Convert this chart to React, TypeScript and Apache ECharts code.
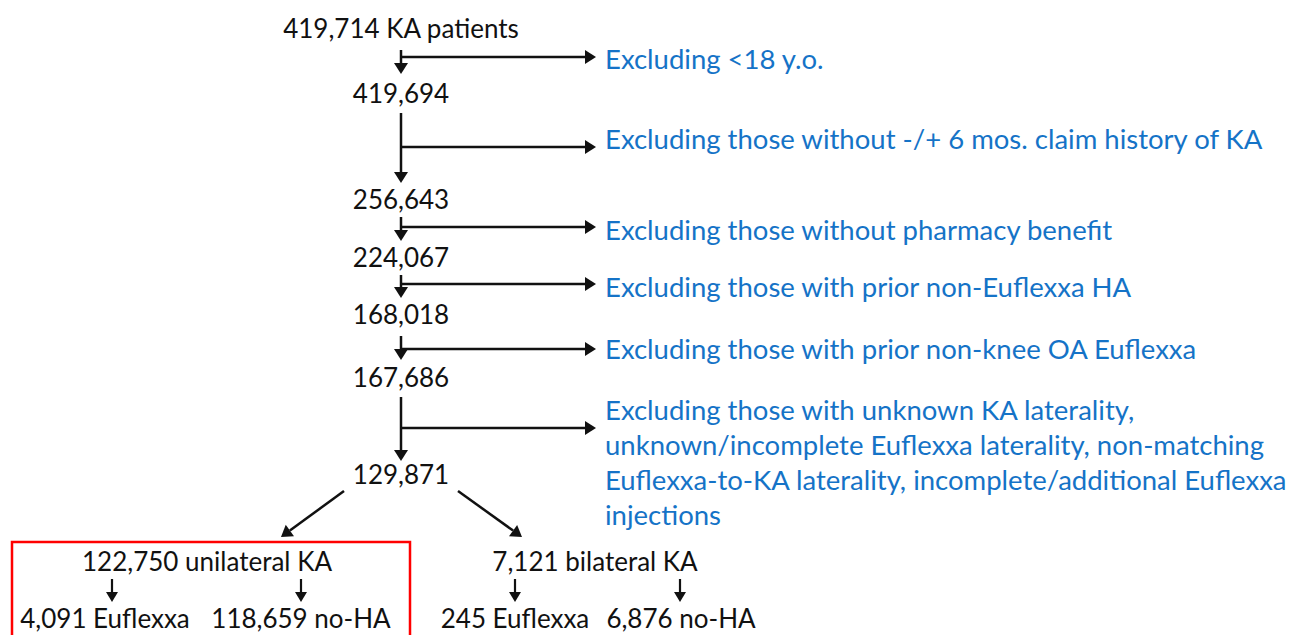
import React, { useEffect, useRef } from "react";
import * as echarts from "echarts";

// ---- data ----
const mainCounts = ["419,714 KA patients", "419,694", "256,643", "224,067", "168,018", "167,686", "129,871"];
const exclusions = [
  "Excluding <18 y.o.",
  "Excluding those without -/+ 6 mos. claim history of KA",
  "Excluding those without pharmacy benefit",
  "Excluding those with prior non-Euflexxa HA",
  "Excluding those with prior non-knee OA Euflexxa",
  "Excluding those with unknown KA laterality,\nunknown/incomplete Euflexxa laterality, non-matching\nEuflexxa-to-KA laterality, incomplete/additional Euflexxa\ninjections",
];
const groups = ["122,750 unilateral KA", "7,121 bilateral KA"];
const subgroups = [
  ["4,091 Euflexxa", "118,659 no-HA"],
  ["245 Euflexxa", "6,876 no-HA"],
];

// ---- layout ----
const FONT = "Lato";
const FS = 26;
const FS_BLUE = 27.5;
const BLUE = "#1573c7";
const BLACK = "#111111";
const MAIN_X = 401;
const mainY = [28, 93, 199, 257, 314, 377, 474];
const vArrows: [number, number][] = [[50, 74], [113, 183], [217, 241], [275, 298], [336, 360], [397, 461]];
const hArrowY = [57, 147, 227, 284, 349, 428];
const exclY = [58, 138, 229, 286, 348, 409];
const EXCL_X = 605;
const groupX = [207, 595];
const groupY = 561;
const subX = [[105, 301], [515, 681]];
const subArrowX = [[112, 301], [515, 680]];
const subY = 618;

function arrow(x1: number, y1: number, x2: number, y2: number, lw = 2.5, head = 11, hw = 7) {
  const dx = x2 - x1, dy = y2 - y1;
  const len = Math.sqrt(dx * dx + dy * dy);
  const ux = dx / len, uy = dy / len;
  const bx = x2 - ux * head, by = y2 - uy * head;
  const px = -uy, py = ux;
  return [
    { type: "line", shape: { x1, y1, x2: bx, y2: by }, style: { stroke: BLACK, lineWidth: lw } },
    {
      type: "polygon",
      shape: { points: [[x2, y2], [bx + px * hw, by + py * hw], [bx - px * hw, by - py * hw]] },
      style: { fill: BLACK },
    },
  ];
}

function text(t: string, x: number, y: number, color: string, fs = FS, align = "center", vAlign = "middle", lh = 35) {
  return {
    type: "text",
    x, y,
    style: { text: t, fill: color, fontFamily: FONT, fontSize: fs, align, verticalAlign: vAlign, lineHeight: lh },
  };
}

export default function App() {
  const ref = useRef<HTMLDivElement>(null);
  useEffect(() => {
    if (!ref.current) return;
    const chart = echarts.init(ref.current, undefined, { renderer: "svg" });
    const els: any[] = [];
    mainCounts.forEach((t, i) => els.push(text(t, MAIN_X, mainY[i], BLACK)));
    vArrows.forEach(([a, b]) => els.push(...arrow(MAIN_X, a, MAIN_X, b)));
    hArrowY.forEach((y) => els.push(...arrow(MAIN_X, y, 596, y)));
    exclusions.forEach((t, i) => {
      if (i === exclusions.length - 1) els.push(text(t, EXCL_X, exclY[i] - 17, BLUE, FS_BLUE, "left", "top"));
      else els.push(text(t, EXCL_X, exclY[i], BLUE, FS_BLUE, "left", "middle"));
    });
    els.push(...arrow(344, 491, 281, 537));
    els.push(...arrow(458, 491, 522, 537));
    groups.forEach((g, i) => els.push(text(g, groupX[i], groupY, BLACK)));
    subgroups.forEach((pair, i) =>
      pair.forEach((s, j) => {
        els.push(text(s, subX[i][j], subY, BLACK));
        els.push(...arrow(subArrowX[i][j], 579, subArrowX[i][j], 602, 2.2, 10, 6));
      })
    );
    els.push({
      type: "rect",
      shape: { x: 12, y: 542, width: 398, height: 110 },
      style: { fill: "none", stroke: "#ff0000", lineWidth: 2.5 },
    });
    chart.setOption({ animation: false, backgroundColor: "#ffffff", graphic: { elements: els } });
    return () => chart.dispose();
  }, []);
  return <div ref={ref} style={{ position: "fixed", left: 0, top: 0, width: 1294, height: 635 }} />;
}
